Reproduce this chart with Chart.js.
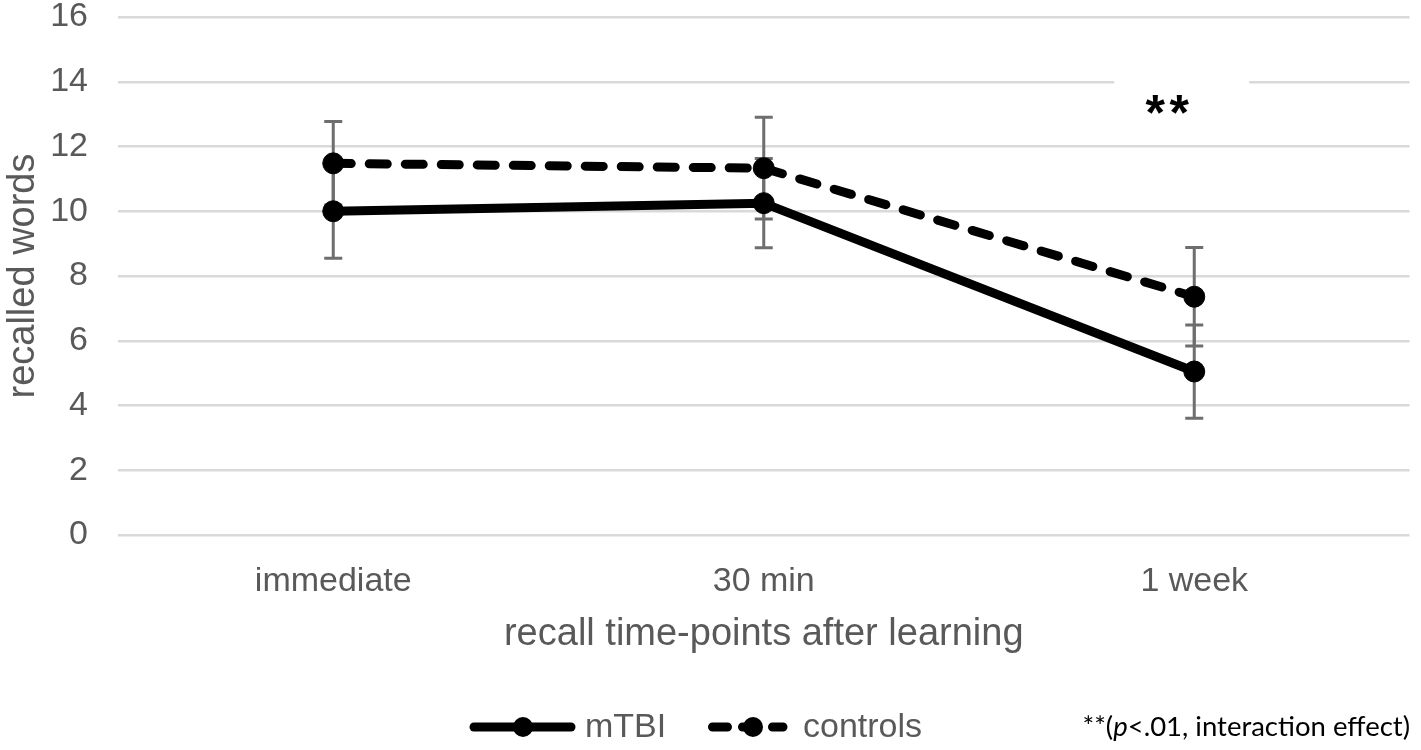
<!DOCTYPE html>
<html>
<head>
<meta charset="utf-8">
<script src="https://cdn.jsdelivr.net/npm/chart.js@4.4.1/dist/chart.umd.min.js"></script>
<style>
  html, body { margin: 0; padding: 0; background: #fff; }
  #wrap { width: 1421px; height: 750px; position: relative; }
</style>
</head>
<body>
<div id="wrap"><canvas id="recall"></canvas></div>
<script>
/* ================================================
   DATA
================================================ */

const CATEGORIES   = ['immediate', '30 min', '1 week'];
const MTBI         = [10.0, 10.25, 5.05];
const MTBI_ERR     = [1.45, 1.38, 1.44];
const CONTROLS     = [11.48, 11.33, 7.36];
const CONTROLS_ERR = [1.29, 1.57, 1.52];
const Y_MIN  = 0;
const Y_MAX  = 16;
const Y_STEP = 2;

const SIG_MARK = '**';
const SIG_NOTE = ['**(', 'p', '<.01, interaction effect)'];

/* ================================================
   COLORS / FONTS
================================================ */

const C = {
  text:  '#595959',
  grid:  '#d9d9d9',
  err:   '#6e6e6e',
  line:  '#000000',
};
const FONT = "'Liberation Sans', Arial, sans-serif";

/* ================================================
   PLUGINS
================================================ */

/* error bars + significance mark, under the lines */
const errorBars = {
  id: 'errorBars',
  beforeDatasetsDraw(chart) {
    const { ctx, scales: { x, y } } = chart;

    /* ** label with white box over the 14 gridline */
    const sx = x.getPixelForValue(2) - 27;
    const sy = y.getPixelForValue(14);
    ctx.save();
    ctx.fillStyle = '#fff';
    ctx.fillRect(sx - 53, sy - 10, 135, 50);
    ctx.fillStyle = '#000';
    ctx.font = 'bold 50px ' + FONT;
    ctx.textAlign = 'center';
    ctx.textBaseline = 'alphabetic';
    ctx.fillText('*', sx - 12, sy + 48);
    ctx.fillText('*', sx + 12, sy + 48);
    ctx.restore();

    ctx.save();
    ctx.strokeStyle = C.err;
    ctx.lineWidth = 3;
    chart.data.datasets.forEach(ds => {
      ds.data.forEach((v, i) => {
        const e   = ds.errors[i];
        const px  = x.getPixelForValue(i);
        const top = y.getPixelForValue(v + e);
        const bot = y.getPixelForValue(v - e);
        ctx.beginPath();
        ctx.moveTo(px, top);      ctx.lineTo(px, bot);
        ctx.moveTo(px - 9, top);  ctx.lineTo(px + 9, top);
        ctx.moveTo(px - 9, bot);  ctx.lineTo(px + 9, bot);
        ctx.stroke();
      });
    });
    ctx.restore();
  },
};

/* legend keys + note, bottom row */
const bottomLegend = {
  id: 'bottomLegend',
  afterDraw(chart) {
    const { ctx } = chart;
    const ly = 727;
    const ds = chart.data.datasets;

    ctx.save();
    ctx.strokeStyle = C.line;
    ctx.fillStyle   = C.line;
    ctx.lineWidth   = 9;
    ctx.lineCap     = 'round';

    /* solid key */
    ctx.beginPath();
    ctx.moveTo(474, ly); ctx.lineTo(571, ly);
    ctx.stroke();
    ctx.beginPath(); ctx.arc(523, ly, 10, 0, Math.PI * 2); ctx.fill();

    /* dashed key */
    ctx.setLineDash([15, 15]);
    ctx.beginPath();
    ctx.moveTo(712.5, ly); ctx.lineTo(783, ly);
    ctx.stroke();
    ctx.setLineDash([]);
    ctx.beginPath(); ctx.arc(753, ly, 10, 0, Math.PI * 2); ctx.fill();

    ctx.fillStyle = C.text;
    ctx.font = '34px ' + FONT;
    ctx.textBaseline = 'middle';
    ctx.textAlign = 'left';
    ctx.fillText(ds[0].label, 585, ly + 1);
    ctx.fillText(ds[1].label, 803, ly + 1);

    /* note, p in italics */
    ctx.fillStyle = '#000';
    const nf  = "27.5px 'Lato', 'Open Sans', sans-serif";
    const nfi = "italic 27.5px 'Lato', 'Open Sans', sans-serif";
    let nx = 1410;
    const parts = [[SIG_NOTE[2], nf], [SIG_NOTE[1], nfi], [SIG_NOTE[0], nf]];
    ctx.textAlign = 'right';
    parts.forEach(([t, f]) => {
      ctx.font = f;
      ctx.fillText(t, nx, ly);
      nx -= ctx.measureText(t).width;
    });
    ctx.restore();
  },
};

/* ================================================
   CHART
================================================ */

function buildRecallChart(canvasId) {
  const canvas = document.getElementById(canvasId);
  if (!canvas) return;

  return new Chart(canvas.getContext('2d'), {
    type: 'line',
    data: {
      labels: CATEGORIES,
      datasets: [
        {
          label: 'mTBI',
          data: MTBI,
          errors: MTBI_ERR,
          borderColor: C.line,
          backgroundColor: C.line,
          borderWidth: 9,
          pointRadius: 10.5,
          pointBackgroundColor: C.line,
          pointBorderColor: C.line,
          pointBorderWidth: 1,
          tension: 0,
          fill: false,
        },
        {
          label: 'controls',
          data: CONTROLS,
          errors: CONTROLS_ERR,
          borderColor: C.line,
          backgroundColor: C.line,
          borderWidth: 9,
          borderDash: [18, 18],
          borderCapStyle: 'round',
          pointRadius: 10.5,
          pointBackgroundColor: C.line,
          pointBorderColor: C.line,
          pointBorderWidth: 1,
          tension: 0,
          fill: false,
        },
      ],
    },
    options: {
      responsive: true,
      maintainAspectRatio: false,
      devicePixelRatio: 1,
      animation: false,
      layout: { padding: { top: 0, right: 3, bottom: 100, left: 0 } },
      plugins: {
        legend:  { display: false },
        tooltip: { enabled: false },
      },
      scales: {
        x: {
          offset: true,
          grid:   { display: false },
          border: { display: false },
          ticks:  { color: C.text, font: { family: FONT, size: 34 }, padding: 18 },
          title: {
            display: true,
            text: 'recall time-points after learning',
            color: C.text,
            font: { family: FONT, size: 38 },
            padding: { top: 0, bottom: -7 },
          },
          afterFit(s) { s.height = 115; },
        },
        y: {
          min: Y_MIN,
          max: Y_MAX,
          grid:   { color: C.grid, lineWidth: 2.5, drawTicks: false },
          border: { display: false },
          ticks: {
            stepSize: Y_STEP,
            color: C.text,
            font: { family: FONT, size: 34, lineHeight: 1 },
            padding: 30,
          },
          title: {
            display: true,
            text: 'recalled words',
            color: C.text,
            font: { family: FONT, size: 38 },
            padding: { top: 1, bottom: 0 },
          },
          afterFit(s) {
            s.width = 118;
            /* keep the label overhang, not the tick padding, at top */
            s.paddingTop = 17;
            s.paddingBottom = 17;
          },
        },
      },
    },
    plugins: [errorBars, bottomLegend],
  });
}

buildRecallChart('recall');
</script>
</body>
</html>
